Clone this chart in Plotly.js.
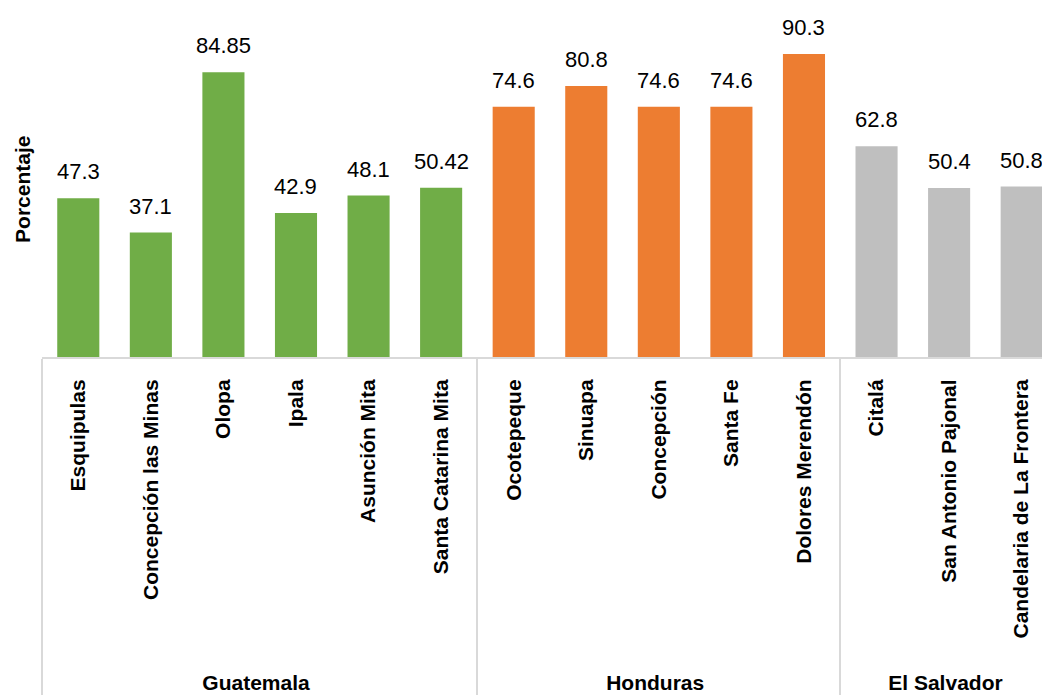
<!DOCTYPE html>
<html>
<head>
<meta charset="utf-8">
<script src="https://cdn.plot.ly/plotly-3.0.1.min.js"></script>
<style>html,body{margin:0;padding:0;background:#fff;}#chart{width:1042px;height:698px;}</style>
</head>
<body>
<div id="chart"></div>
<script>
const countries = ["Guatemala","Guatemala","Guatemala","Guatemala","Guatemala","Guatemala",
  "Honduras","Honduras","Honduras","Honduras","Honduras",
  "El Salvador","El Salvador","El Salvador"];
const municipalities = ["Esquipulas","Concepción las Minas","Olopa","Ipala","Asunción Mita","Santa Catarina Mita",
  "Ocotepeque","Sinuapa","Concepción","Santa Fe","Dolores Merendón",
  "Citalá","San Antonio Pajonal","Candelaria de La Frontera"];
const values = [47.3, 37.1, 84.85, 42.9, 48.1, 50.42, 74.6, 80.8, 74.6, 74.6, 90.3, 62.8, 50.4, 50.8];
const countryColors = {"Guatemala":"#70AD47","Honduras":"#ED7D31","El Salvador":"#BFBFBF"};

const FONT = "'Liberation Sans', Arial, sans-serif";
const PAD = "\u00A0\u00A0\u00A0\u00A0";

const trace = {
  type: 'bar',
  x: [countries, municipalities.map(m => PAD + m)],
  y: values,
  marker: {color: countries.map(c => countryColors[c])},
  hoverinfo: 'none',
  showlegend: false
};

const annotations = values.map((v, i) => ({
  x: i, y: v, xref: 'x', yref: 'y',
  text: String(v), showarrow: false,
  yanchor: 'bottom', yshift: 12,
  font: {family: FONT, size: 22, color: '#000'}
}));
annotations.push({
  xref: 'paper', yref: 'paper', x: -0.019, y: 0.468,
  xanchor: 'center', yanchor: 'middle', textangle: -90,
  text: 'Porcentaje', showarrow: false,
  font: {family: FONT, size: 21, color: '#000', weight: 'bold'}
});

const layout = {
  width: 1042, height: 698,
  margin: {l: 42, r: 0, t: 0, b: 341},
  paper_bgcolor: '#fff', plot_bgcolor: '#fff',
  bargap: 0.42,
  font: {family: FONT, color: '#000'},
  xaxis: {
    type: 'multicategory',
    range: [-0.5, 13.28],
    showline: true, linecolor: '#D9D9D9', linewidth: 2,
    showgrid: false, zeroline: false,
    ticks: '',
    tickangle: -90,
    ticklabelstandoff: 12,
    tickfont: {family: FONT, size: 21, color: '#000', weight: 'bold'},
    showdividers: true, dividercolor: '#D9D9D9', dividerwidth: 2
  },
  yaxis: {
    range: [0, 106.4],
    showgrid: false, zeroline: false, showline: false,
    showticklabels: false, ticks: ''
  },
  annotations: annotations
};

Plotly.newPlot('chart', [trace], layout, {staticPlot: true, displayModeBar: false});
</script>
</body>
</html>
